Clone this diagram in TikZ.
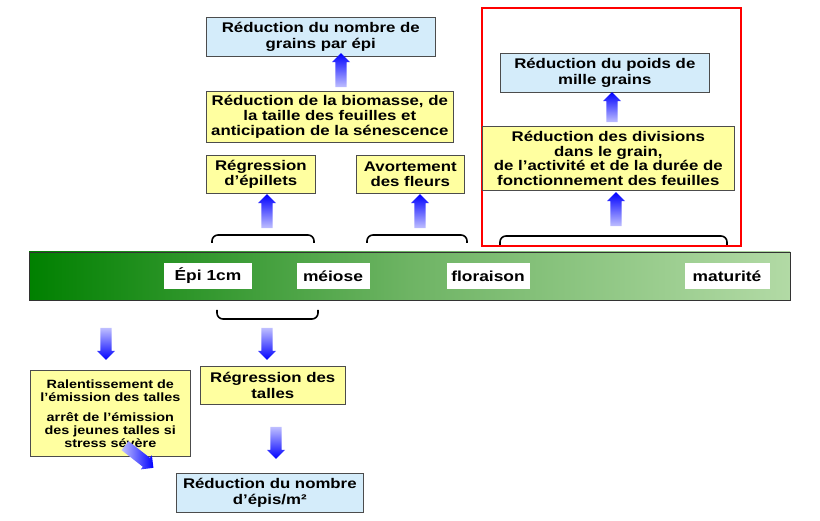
\documentclass[tikz,border=0pt]{standalone}
\usepackage{fontspec}
\setmainfont{Liberation Sans}[FakeStretch=1.2]
\usetikzlibrary{shapes.arrows}
\definecolor{yel}{RGB}{255,255,160}
\definecolor{lb}{RGB}{212,236,250}
\begin{document}
\begin{tikzpicture}[x=1pt,y=-1pt,
 box/.style={draw=black!70,line width=0.6pt,align=center,inner sep=1pt,font=\bfseries\fontsize{14}{15.5}\selectfont,anchor=north west},
 yb/.style={box,fill=yel},
 bb/.style={box,fill=lb},
 lab/.style={fill=white,inner sep=0pt,font=\bfseries\fontsize{14.5}{15}\selectfont,minimum height=26},
 arr/.style={single arrow,minimum width=18,single arrow head extend=3pt,single arrow head indent=0pt,inner sep=5pt,draw=none},
 up/.style={arr,shape border rotate=90,top color=blue,bottom color=blue!25,minimum height=34},
 dn/.style={arr,shape border rotate=270,top color=blue!25,bottom color=blue,minimum height=32},
 brace/.style={line width=1.6pt,rounded corners=6pt}]
\useasboundingbox (0,0) rectangle (820,521);
\draw[red,line width=1.5pt] (482,8) rectangle (741,246);
\node[bb,minimum width=229,minimum height=39] (n1) at (206,17) {Réduction du nombre de\\grains par épi};
\node[yb,minimum width=247,minimum height=51,font=\bfseries\fontsize{14}{15}\selectfont] (n2) at (206,91) {Réduction de la biomasse, de\\la taille des feuilles et\\anticipation de la sénescence};
\node[yb,minimum width=109,minimum height=38] (n3) at (206,155) {Régression\\d’épillets};
\node[yb,minimum width=108,minimum height=38] (n4) at (356,155) {Avortement\\des fleurs};
\node[bb,minimum width=209,minimum height=39] (n5) at (500,53) {Réduction du poids de\\mille grains};
\node[yb,minimum width=252,minimum height=64,font=\bfseries\fontsize{14}{14.5}\selectfont] (n6) at (482,126) {Réduction des divisions\\dans le grain,\\de l’activité et de la durée de\\fonctionnement des feuilles};
\node[yb,minimum width=160,minimum height=86,font=\bfseries\fontsize{12}{13}\selectfont] (n7) at (30,370) {Ralentissement de\\l’émission des talles\\[7pt]arrêt de l’émission\\des jeunes talles si\\stress sévère};
\node[yb,minimum width=145,minimum height=38] (n8) at (200,366) {Régression des\\talles};
\node[bb,minimum width=187,minimum height=39] (n9) at (176,473) {Réduction du nombre\\d’épis/m²};
% bar
\shade[left color={rgb,255:red,0;green,128;blue,0},right color={rgb,255:red,178;green,218;blue,165},middle color={rgb,255:red,110;green,180;blue,100}] (29,252) rectangle (790,300);
\draw[black!80,line width=0.8pt] (29,252) rectangle (790,300);
\node[lab,minimum width=88] (l1) at (208,276) {Épi 1cm};
\node[lab,minimum width=73] (l2) at (333,276) {méiose};
\node[lab,minimum width=83] (l3) at (488,276) {floraison};
\node[lab,minimum width=85] (l4) at (727,276) {maturité};
% braces
\draw[brace] (212,243) -- (212,235) -- (314,235) -- (314,243);
\draw[brace] (367,243) -- (367,235) -- (467,235) -- (467,243);
\draw[brace] (500,245) -- (500,236) -- (727,236) -- (727,245);
\draw[brace] (217,310) -- (217,319) -- (318,319) -- (318,310);
% arrows
\node[up] (a1) at (341,73) {};
\node[up] (a2) at (267,214) {};
\node[up] (a3) at (420,214) {};
\node[up] (a4) at (616,212) {};
\node[up,minimum height=30] (a5) at (612,110) {};
\node[dn] (a6) at (106,341) {};
\node[dn] (a7) at (267,341) {};
\node[dn] (a8) at (276,440) {};
\node[arr,minimum height=36,rotate=-38,left color=blue!25,right color=blue] (a9) at (137,455) {};
\end{tikzpicture}
\end{document}
